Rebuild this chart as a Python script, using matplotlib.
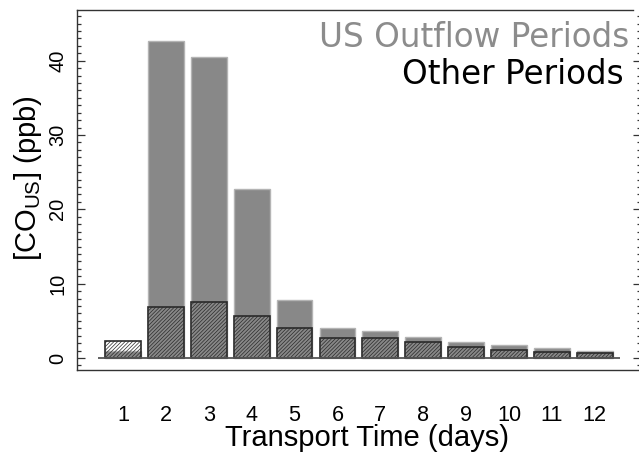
import matplotlib
matplotlib.use("Agg")
import matplotlib.pyplot as plt
from matplotlib.ticker import MultipleLocator

# data
days = [1, 2, 3, 4, 5, 6, 7, 8, 9, 10, 11, 12]
day_labels = ["1", "2", "3", "4", "5", "6", "7", "8", "9", "10", "11", "12"]
us_outflow = [1.0, 42.7, 40.5, 22.8, 7.8, 4.0, 3.7, 2.85, 2.1, 1.7, 1.3, 1.0]
other_periods = [2.3, 6.8, 7.6, 5.65, 4.0, 2.75, 2.65, 2.1, 1.55, 1.05, 0.8, 0.65]

plt.rcParams["font.family"] = ["Liberation Sans", "DejaVu Sans"]
plt.rcParams["mathtext.fontset"] = "custom"
plt.rcParams["mathtext.rm"] = "Liberation Sans"
plt.rcParams["hatch.linewidth"] = 0.5

W, H = 639, 453
fig = plt.figure(figsize=(W / 100, H / 100), dpi=100)
ax = fig.add_axes([77 / W, 83 / H, 564 / W, 360 / H])

# R barplot style positions: width 1, space 0.2
pitch = 1.2
xs = [pitch * d for d in days]

ax.bar(xs, us_outflow, width=1.0, color="#888888", edgecolor="#b4b4b4",
       linewidth=1.0, zorder=2)
ax.bar(xs, other_periods, width=1.0, facecolor="none", edgecolor="#2a2a2a",
       hatch="/////////", linewidth=1.2, zorder=3)

# baseline like R's barplot axis line
ax.hlines(0, xs[0] - 0.7, xs[-1] + 0.7, color="#555555", linewidth=1.3, zorder=4)

ax.set_xlim(-0.084, 15.69)
ax.set_ylim(-1.61, 46.82)

ax.set_xticks(xs)
ax.set_xticklabels(day_labels, fontsize=15.6)
ax.tick_params(axis="x", length=0, pad=25.5)

ax.yaxis.set_major_locator(MultipleLocator(10))
ax.yaxis.set_minor_locator(MultipleLocator(1))
ax.tick_params(axis="y", which="both", direction="in", right=True,
               color="#333333", width=0.9)
ax.tick_params(axis="y", which="major", length=5.8, labelsize=14.4, pad=7)
ax.tick_params(axis="y", which="minor", length=2.6)
for lab in ax.get_yticklabels():
    lab.set_rotation(90)
    lab.set_va("center")

ax.set_xlabel("Transport Time (days)", fontsize=21)
ax.xaxis.set_label_coords(0.515, -0.151)
ax.set_ylabel(r"[$\mathrm{CO}_{\mathrm{US}}$] (ppb)", fontsize=21)
ax.yaxis.set_label_coords(-0.0585, 0.532)

for side in ["left", "top", "bottom"]:
    ax.spines[side].set_color("#333333")
    ax.spines[side].set_linewidth(1.0)
ax.spines["right"].set_visible(False)
ax.spines["top"].set_bounds(-0.084, 15.47)

# legend as plain text, right aligned (figure pixel positions)
fig.text(629 / W, 1 - 46.7 / H, "US Outflow Periods", ha="right",
         va="baseline", color="#8c8c8c", fontsize=23.5, family="DejaVu Sans")
fig.text(624 / W, 1 - 84 / H, "Other Periods", ha="right",
         va="baseline", color="black", fontsize=23.5, family="DejaVu Sans")

fig.savefig("out.png", dpi=100)
